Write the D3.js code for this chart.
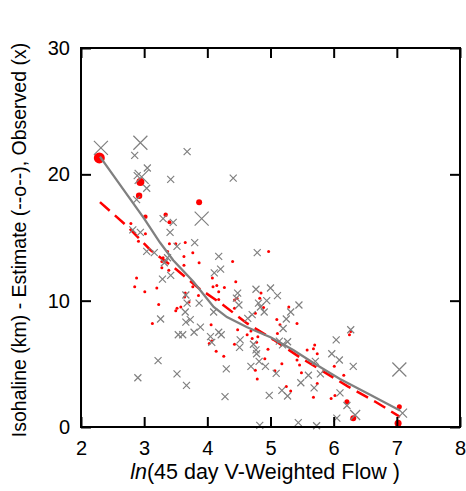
<!DOCTYPE html>
<html><head><meta charset="utf-8">
<script src="https://cdn.jsdelivr.net/npm/d3@7"></script>
<style>body{margin:0;background:#fff}svg{display:block;font-family:"Liberation Sans",Arial,sans-serif}</style>
</head><body><svg id="c" width="466" height="491"></svg>
<script>
// Observed (gray x): x, y, weight (1 small, 2 big)
const obsX = [2.315,2.94,2.85,3.68,3.05,2.89,2.96,3.04,3.42,2.88,3.91,3.30,3.46,3.41,2.82,2.94,3.52,3.80,3.04,3.16,3.37,3.32,3.42,3.29,
  3.66,3.68,3.87,3.65,3.26,3.66,3.73,3.79,3.54,3.61,3.89,3.22,2.90,3.52,3.67,
  4.48,4.46,4.77,5.00,5.11,4.50,4.10,4.81,4.84,4.94,4.90,5.45,5.32,5.25,4.71,4.64,5.20,4.18,4.22,4.05,4.07,4.52,4.51,4.73,4.77,4.78,5.14,5.27,5.19,4.82,4.92,4.69,5.09,4.30,5.60,5.48,4.98,4.28,5.18,5.27,4.83,5.44,
  6.27,6.04,5.97,6.09,5.71,5.79,6.31,5.69,6.10,6.21,6.34,6.05,5.73,7.04,7.09,
  4.41,4.18,4.79,4.21,4.11];
const obsY = [22.1,22.5,21.5,21.8,20.5,19.9,19.8,18.9,19.6,18.0,16.5,16.5,16.2,15.4,15.6,15.4,14.3,14.6,13.9,13.8,13.4,13.0,12.0,11.7,
  10.45,9.8,9.8,9.1,8.55,8.3,8.5,7.5,7.3,7.3,7.9,5.25,3.9,4.2,3.3,
  10.6,10.2,10.9,11.0,10.4,9.66,9.1,9.8,9.5,10.0,9.1,9.66,9.1,8.55,8.9,8.6,7.8,7.5,7.3,7.15,6.7,6.9,6.3,6.55,6.1,5.8,6.8,6.75,6.5,5.2,4.8,4.8,4.25,4.6,4.1,3.5,2.5,2.4,2.9,2.45,0.13,0.35,
  7.7,6.9,5.8,5.3,5.2,4.2,4.8,3.1,2.7,1.7,0.95,0.7,0.1,4.55,1.1,
  19.7,13.5,13.8,12.5,12.2];
const obsW = [2,2,1,1,1,1,2,1,1,1,2,1,1,1,1,1,1,1,1,1,1,1,1,1,
  1,1,1,1,1,1,1,1,1,1,1,1,1,1,1,
  1,1,1,1,1,1,1,1,1,1,1,1,1,1,1,1,1,1,1,1,1,1,1,1,1,1,1,1,1,1,1,1,1,1,1,1,1,1,1,1,1,1,
  1,1,1,1,1,1,1,1,1,1,1.5,1,1,2,1.3,
  1,1,1,1,1];

// Estimate (red dots): x, y, weight
const estX = [2.29,2.94,2.92,3.87,3.02,3.34,3.40,2.79,3.02,2.91,3.40,3.50,3.65,3.77,3.63,3.37,3.30,3.28,3.63,3.28,3.39,3.87,2.88,
  2.85,3.01,3.20,3.23,3.13,3.50,3.52,3.58,3.65,3.64,3.71,3.77,3.86,
  4.09,4.15,4.27,4.45,4.18,4.18,4.43,4.43,4.85,4.89,4.83,4.76,4.48,4.06,4.03,4.07,4.14,4.26,4.43,4.63,4.71,4.80,4.78,4.69,5.10,5.15,5.29,5.42,5.11,4.96,4.91,5.18,4.76,4.79,5.07,5.58,5.46,5.42,5.49,5.25,5.32,4.47,
  6.27,6.25,5.70,5.68,5.74,6.01,6.16,5.74,5.68,5.96,6.02,6.21,6.31,7.04,7.02,
  4.97,4.40,4.08];
const estY = [21.3,19.4,18.3,17.8,16.65,16.8,16.2,16.1,15.3,14.7,14.5,14.5,14.6,13.8,13.5,13.9,13.4,13.1,12.8,12.6,12.4,13.0,11.8,
  11.1,10.7,11.0,9.7,8.2,9.2,9.4,9.5,10.6,10.3,9.9,11.1,10.4,
  11.1,11.2,11.05,11.5,10.7,10.1,10.05,9.4,10.6,9.45,10.2,9.0,7.7,8.1,6.6,6.8,6.0,5.6,6.55,7.3,7.0,7.15,6.7,7.6,8.5,8.1,9.5,8.2,7.4,6.15,5.4,5.0,4.5,3.8,4.45,6.1,4.9,5.3,4.3,3.2,2.85,10.2,
  7.55,7.3,6.5,6.2,5.8,4.8,4.1,3.45,2.35,2.25,2.5,2.0,0.7,1.6,0.3,
  13.9,13.1,11.8];
const estW = [5.5,4,3.2,3,2.2,2.2,2,1.5,1.5,1.5,1.5,1.5,1.5,1.5,1.5,1.5,1.5,1.5,1.5,1.5,1.5,1.5,1.5,
  1.5,1.5,1.5,1.5,1.5,1.5,1.5,1.5,1.5,1.5,1.5,1.5,1.5,
  1.5,1.5,1.5,1.5,1.5,1.5,1.5,1.5,1.5,1.5,1.5,1.5,1.5,1.5,1.5,1.5,1.5,1.5,1.5,1.5,1.5,1.5,1.5,1.5,1.5,1.5,1.5,1.5,1.5,1.5,1.5,1.5,1.5,1.5,1.5,1.5,1.5,1.5,1.5,1.5,1.5,1.5,
  1.5,1.5,1.5,1.5,1.5,1.5,1.5,1.5,1.5,1.5,1.5,2.5,3,2.5,3.5,
  1.5,1.5,1.5];

// Smoothed observed (gray line)
const smoothX = [2.3,3.0,3.25,3.46,3.78,4.1,4.31,4.63,5.0,5.36,5.7,6.1,6.6,7.05];
const smoothY = [21.4,16.5,14.6,13.2,11.5,9.5,8.7,7.9,7.1,6.1,5.0,3.8,2.5,1.3];
// Estimate curve (red dashed)
const fitX = [2.3,2.75,3.1,3.5,3.86,4.24,4.63,5.05,5.47,6.23,6.66,7.05];
const fitY = [17.8,15.8,14.0,12.5,11.0,9.7,8.2,6.9,5.5,3.2,2.0,0.8];

const xTicks = [2,3,4,5,6,7,8];
const yTicks = [0,10,20,30];

const svg = d3.select("#c");
const x = d3.scaleLinear().domain([2,8]).range([81,460]);
const y = d3.scaleLinear().domain([0,30]).range([427,48]);

// dashed estimate
svg.append("path")
  .attr("d", d3.line().x(d=>x(d[0])).y(d=>y(d[1]))(fitX.map((v,i)=>[v,fitY[i]])))
  .attr("fill","none").attr("stroke","#ff0000").attr("stroke-width",2.5).attr("stroke-dasharray","13,7");

// red dots
svg.append("g").selectAll("circle").data(estX.map((v,i)=>[v,estY[i],estW[i]])).join("circle")
  .attr("cx",d=>x(d[0])).attr("cy",d=>y(d[1])).attr("r",d=>d[2]).attr("fill","#ff0000");

// gray x markers
const xm = svg.append("g").attr("stroke","#808080").attr("stroke-width",1.2).attr("fill","none");
obsX.forEach((v,i)=>{
  const cx=x(v), cy=y(obsY[i]), h = obsW[i]>=2 ? 7 : (obsW[i]>1.4?5:(obsW[i]>1.2?4.5:3.5));
  xm.append("path").attr("d",`M${cx-h},${cy-h}L${cx+h},${cy+h}M${cx-h},${cy+h}L${cx+h},${cy-h}`);
});

// smooth line
svg.append("path")
  .attr("d", d3.line().x(d=>x(d[0])).y(d=>y(d[1]))(smoothX.map((v,i)=>[v,smoothY[i]])))
  .attr("fill","none").attr("stroke","#808080").attr("stroke-width",2.3);

// axes box
svg.append("rect").attr("x",81).attr("y",48).attr("width",379).attr("height",379)
  .attr("fill","none").attr("stroke","#000").attr("stroke-width",2);

const ax = d3.axisBottom(x).tickValues(xTicks).tickSize(-10).tickPadding(14).tickFormat(d3.format("d"));
const axT = d3.axisTop(x).tickValues(xTicks).tickSize(-10).tickFormat("");
const ay = d3.axisLeft(y).tickValues(yTicks).tickSize(-10).tickPadding(11).tickFormat(d3.format("d"));
const ayR = d3.axisRight(y).tickValues(yTicks).tickSize(-10).tickFormat("");
function style(s){ s.select(".domain").remove(); s.selectAll("line").attr("stroke","#000").attr("stroke-width",2);
  s.selectAll("text").attr("font-size",20).attr("fill","#000").attr("font-family","Liberation Sans, Arial, sans-serif"); }
svg.append("g").attr("transform","translate(0,427)").call(ax).call(style);
svg.append("g").attr("transform","translate(0,48)").call(axT).call(style);
svg.append("g").attr("transform","translate(81,0)").call(ay).call(style);
svg.append("g").attr("transform","translate(460,0)").call(ayR).call(style);

// labels
const xl = svg.append("text").attr("x",265).attr("y",479).attr("text-anchor","middle")
  .attr("font-size",21.5).attr("fill","#000");
xl.append("tspan").attr("font-style","italic").text("ln");
xl.append("tspan").text("(45 day V-Weighted Flow )");
svg.append("text").attr("transform","translate(26,240) rotate(-90)").attr("text-anchor","middle")
  .attr("font-size",19.5).attr("fill","#000").text("Isohaline (km) - Estimate (--o--), Observed (x)");
</script></body></html>
